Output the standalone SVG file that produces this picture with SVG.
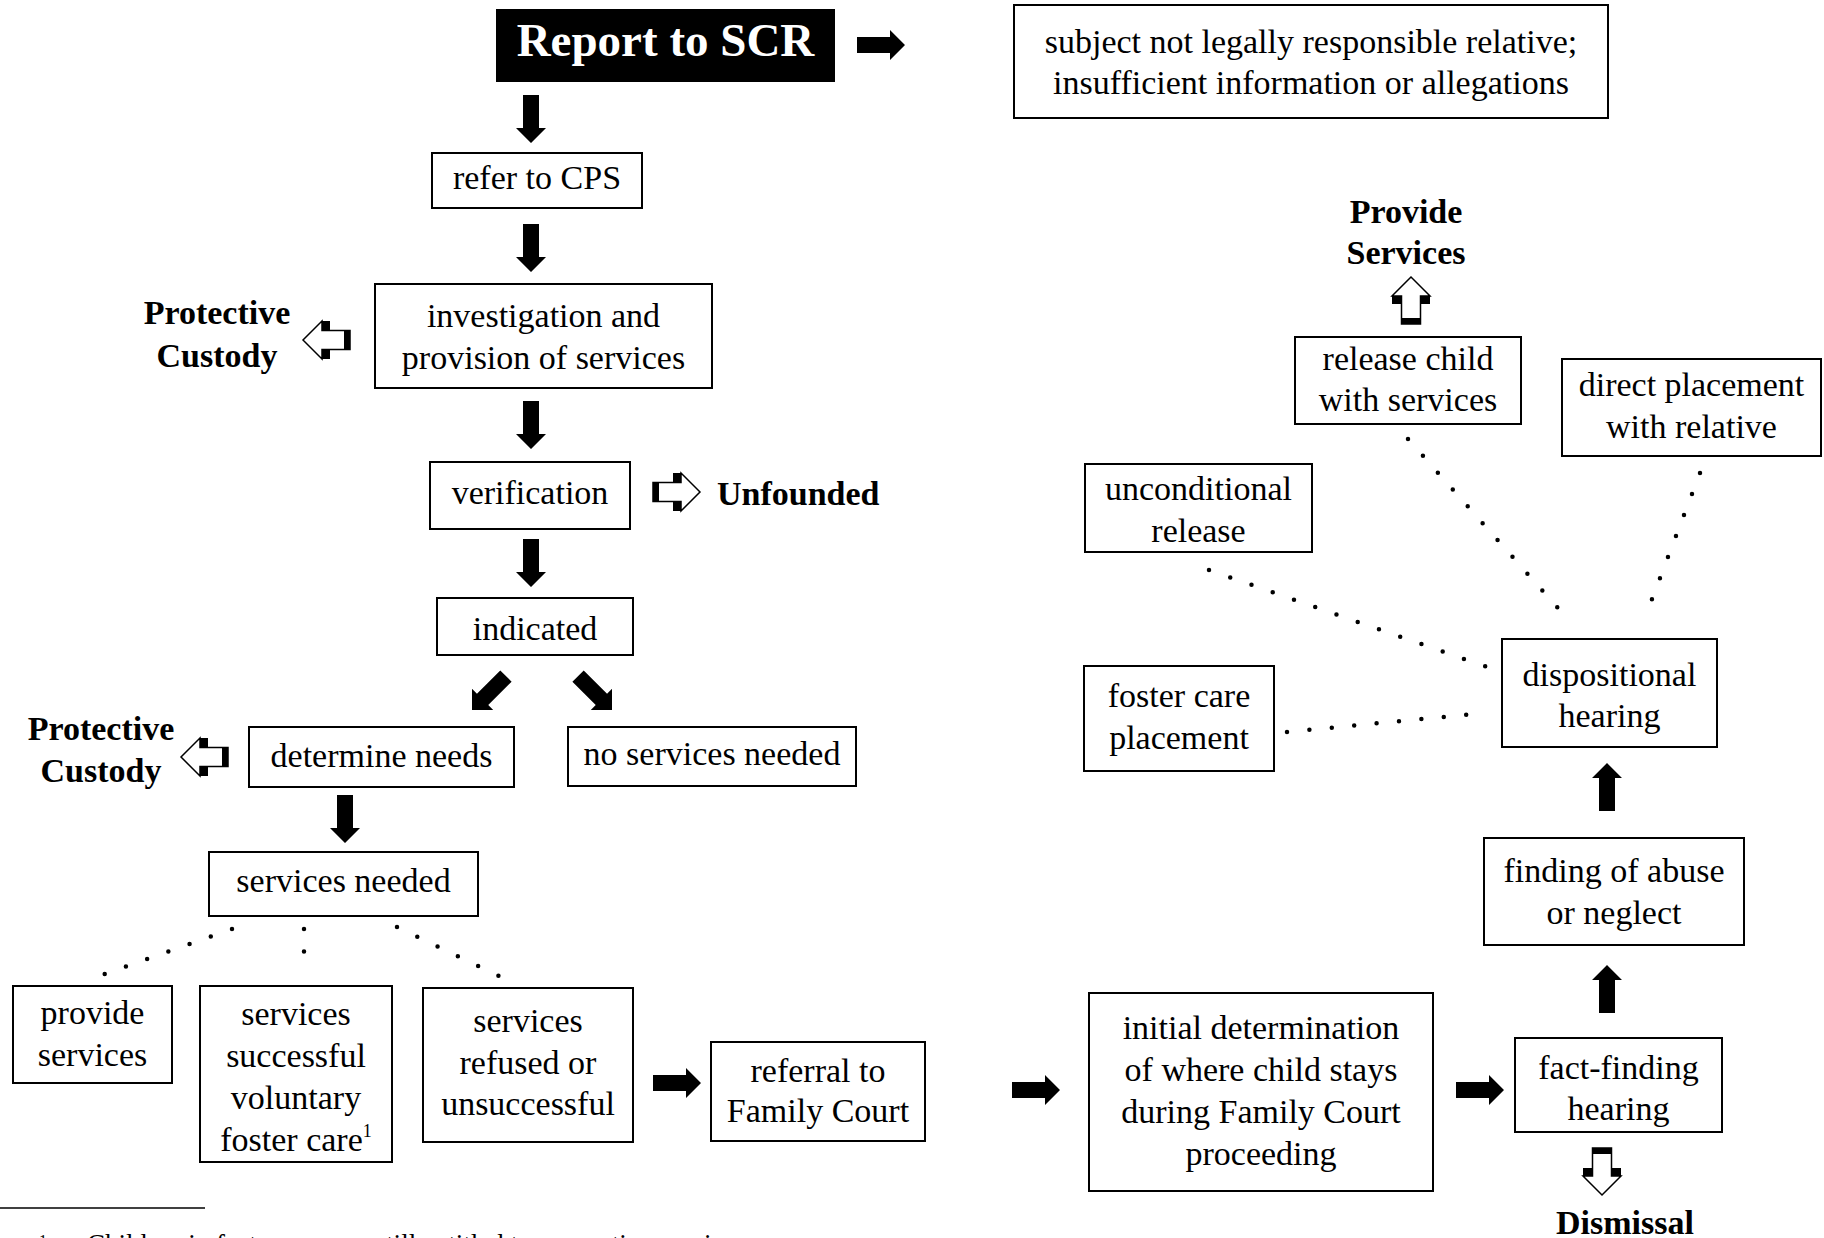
<svg xmlns="http://www.w3.org/2000/svg" xmlns:xlink="http://www.w3.org/1999/xlink" width="1824" height="1238" viewBox="0 0 1824 1238">
<style>
.box{fill:#fff;stroke:#000;stroke-width:2}
.t{font-family:"Liberation Serif","Times New Roman",serif;font-size:34px;fill:#000;text-anchor:middle}
.b{font-family:"Liberation Serif","Times New Roman",serif;font-size:34px;font-weight:bold;fill:#000;text-anchor:middle}
.dot{fill:none;stroke:#000;stroke-width:4.5;stroke-linecap:round;stroke-dasharray:0 22.5}
</style>
<defs>
<path id="solid" d="M0 0 L-15 -15 V-8 H-48 V8 H-15 V15 Z" fill="#000"/>
<g id="open">
<polygon points="0,0 -19,-19 -19,-9.5 -47,-9.5 -47,9.5 -19,9.5 -19,19" fill="#fff" stroke="#000" stroke-width="1.5"/>
<rect x="-27" y="-19" width="8" height="9.5" fill="#000"/>
<rect x="-27" y="9.5" width="8" height="9.5" fill="#000"/>
<rect x="-47" y="-9.5" width="6" height="19" fill="#000"/>
</g>
</defs>
<rect width="1824" height="1238" fill="#fff"/>

<g id="connectors">
<use xlink:href="#solid" href="#solid" transform="translate(905,45)"/>
<use xlink:href="#solid" href="#solid" transform="translate(531,143) rotate(90)"/>
<use xlink:href="#solid" href="#solid" transform="translate(531,272) rotate(90)"/>
<use xlink:href="#solid" href="#solid" transform="translate(531,449) rotate(90)"/>
<use xlink:href="#solid" href="#solid" transform="translate(531,587) rotate(90)"/>
<use xlink:href="#solid" href="#solid" transform="translate(472,710) rotate(135)"/>
<use xlink:href="#solid" href="#solid" transform="translate(612,710) rotate(45)"/>
<use xlink:href="#solid" href="#solid" transform="translate(345,843) rotate(90)"/>
<use xlink:href="#solid" href="#solid" transform="translate(701,1083)"/>
<use xlink:href="#solid" href="#solid" transform="translate(1060,1090)"/>
<use xlink:href="#solid" href="#solid" transform="translate(1504,1090)"/>
<use xlink:href="#solid" href="#solid" transform="translate(1607,965) rotate(-90)"/>
<use xlink:href="#solid" href="#solid" transform="translate(1607,763) rotate(-90)"/>
<use xlink:href="#open" href="#open" transform="translate(303,340) rotate(180)"/>
<use xlink:href="#open" href="#open" transform="translate(181,757) rotate(180)"/>
<use xlink:href="#open" href="#open" transform="translate(700,492)"/>
<use xlink:href="#open" href="#open" transform="translate(1411,277) rotate(-90)"/>
<use xlink:href="#open" href="#open" transform="translate(1602,1195) rotate(90)"/>
<line class="dot" x1="232" y1="929" x2="96" y2="977"/>
<line class="dot" x1="304" y1="929" x2="304" y2="971"/>
<line class="dot" x1="397" y1="927" x2="499" y2="976"/>
<line class="dot" x1="1209" y1="570" x2="1487" y2="667"/>
<line class="dot" x1="1287" y1="732" x2="1484" y2="713"/>
<line class="dot" x1="1408" y1="439" x2="1572" y2="624"/>
<line class="dot" x1="1700" y1="473" x2="1644" y2="620"/>
</g>

<g id="report">
<rect x="496" y="9" width="339" height="73" fill="#000"/>
<text class="b" x="665.5" y="56" style="font-size:47px;fill:#fff">Report to SCR</text>
</g>
<g id="subject">
<rect class="box" x="1014" y="5" width="594" height="113"/>
<text class="t" x="1311" y="53">subject not legally responsible relative;</text>
<text class="t" x="1311" y="94">insufficient information or allegations</text>
</g>
<g id="refer">
<rect class="box" x="432" y="153" width="210" height="55"/>
<text class="t" x="537" y="189">refer to CPS</text>
</g>
<g id="investigation">
<rect class="box" x="375" y="284" width="337" height="104"/>
<text class="t" x="543.5" y="327">investigation and</text>
<text class="t" x="543.5" y="369">provision of services</text>
</g>
<g id="protective1">
<text class="b" x="217" y="324">Protective</text>
<text class="b" x="217" y="367">Custody</text>
</g>
<g id="verification">
<rect class="box" x="430" y="462" width="200" height="67"/>
<text class="t" x="530" y="504">verification</text>
</g>
<g id="unfounded">
<text class="b" x="717" y="505" style="text-anchor:start">Unfounded</text>
</g>
<g id="indicated">
<rect class="box" x="437" y="598" width="196" height="57"/>
<text class="t" x="535" y="640">indicated</text>
</g>
<g id="protective2">
<text class="b" x="101" y="740">Protective</text>
<text class="b" x="101" y="782">Custody</text>
</g>
<g id="determine">
<rect class="box" x="249" y="727" width="265" height="60"/>
<text class="t" x="381.5" y="767">determine needs</text>
</g>
<g id="noservices">
<rect class="box" x="568" y="727" width="288" height="59"/>
<text class="t" x="712" y="765">no services needed</text>
</g>
<g id="servicesneeded">
<rect class="box" x="209" y="852" width="269" height="64"/>
<text class="t" x="343.5" y="892">services needed</text>
</g>
<g id="provide">
<rect class="box" x="13" y="986" width="159" height="97"/>
<text class="t" x="92.5" y="1024">provide</text>
<text class="t" x="92.5" y="1066">services</text>
</g>
<g id="successful">
<rect class="box" x="200" y="986" width="192" height="176"/>
<text class="t" x="296" y="1025">services</text>
<text class="t" x="296" y="1067">successful</text>
<text class="t" x="296" y="1109">voluntary</text>
<text class="t" x="296" y="1151">foster care<tspan style="font-size:18px" dy="-14">1</tspan></text>
</g>
<g id="refused">
<rect class="box" x="423" y="988" width="210" height="154"/>
<text class="t" x="528" y="1032">services</text>
<text class="t" x="528" y="1074">refused or</text>
<text class="t" x="528" y="1115">unsuccessful</text>
</g>
<g id="referral">
<rect class="box" x="711" y="1042" width="214" height="99"/>
<text class="t" x="818" y="1082">referral to</text>
<text class="t" x="818" y="1122">Family Court</text>
</g>
<g id="initial">
<rect class="box" x="1089" y="993" width="344" height="198"/>
<text class="t" x="1261" y="1039">initial determination</text>
<text class="t" x="1261" y="1081">of where child stays</text>
<text class="t" x="1261" y="1123">during Family Court</text>
<text class="t" x="1261" y="1165">proceeding</text>
</g>
<g id="factfinding">
<rect class="box" x="1515" y="1038" width="207" height="94"/>
<text class="t" x="1618.5" y="1079">fact-finding</text>
<text class="t" x="1618.5" y="1120">hearing</text>
</g>
<g id="dismissal">
<text class="b" x="1625" y="1234">Dismissal</text>
</g>
<g id="findingabuse">
<rect class="box" x="1484" y="838" width="260" height="107"/>
<text class="t" x="1614" y="882">finding of abuse</text>
<text class="t" x="1614" y="924">or neglect</text>
</g>
<g id="dispositional">
<rect class="box" x="1502" y="639" width="215" height="108"/>
<text class="t" x="1609.5" y="686">dispositional</text>
<text class="t" x="1609.5" y="727">hearing</text>
</g>
<g id="fostercare">
<rect class="box" x="1084" y="666" width="190" height="105"/>
<text class="t" x="1179" y="707">foster care</text>
<text class="t" x="1179" y="749">placement</text>
</g>
<g id="unconditional">
<rect class="box" x="1085" y="464" width="227" height="88"/>
<text class="t" x="1198.5" y="500">unconditional</text>
<text class="t" x="1198.5" y="542">release</text>
</g>
<g id="releasechild">
<rect class="box" x="1295" y="337" width="226" height="87"/>
<text class="t" x="1408" y="370">release child</text>
<text class="t" x="1408" y="411">with services</text>
</g>
<g id="provideservices">
<text class="b" x="1406" y="223">Provide</text>
<text class="b" x="1406" y="264">Services</text>
</g>
<g id="direct">
<rect class="box" x="1562" y="359" width="259" height="97"/>
<text class="t" x="1691.5" y="396">direct placement</text>
<text class="t" x="1691.5" y="438">with relative</text>
</g>
<g id="footnote">
<line x1="0" y1="1208" x2="205" y2="1208" stroke="#000" stroke-width="1.5"/>
<text x="39" y="1246" style="font-family:'Liberation Serif',serif;font-size:16px">1</text>
<text x="87" y="1253" style="font-family:'Liberation Serif',serif;font-size:27px">Children in foster care are still entitled to preventive services</text>
</g>
</svg>
